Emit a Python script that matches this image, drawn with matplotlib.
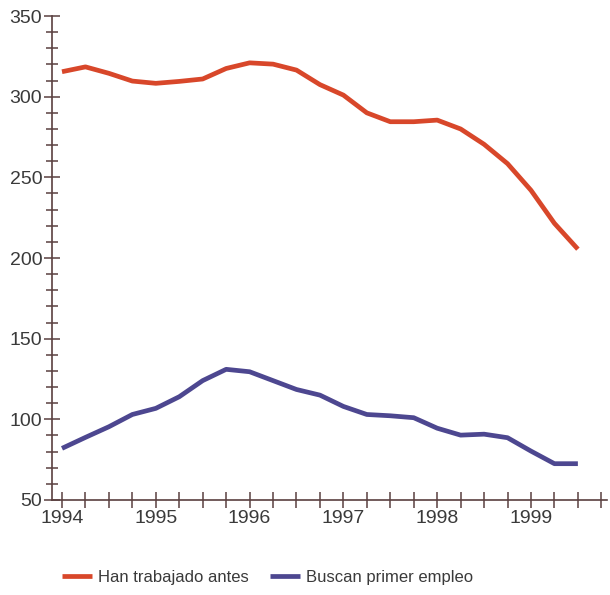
import matplotlib.pyplot as plt
import numpy as np
from matplotlib.ticker import MultipleLocator

# quarterly data, 1994 Q1 .. 1999 Q3
quarters = np.arange(1994, 1999.51, 0.25)
han_trabajado = [315.5, 318.5, 314.5, 309.7, 308.3, 309.5, 311, 317.5, 321, 320.2,
                 316.5, 307.5, 301, 290, 284.5, 284.5, 285.5, 280, 270.5, 258.5,
                 242, 221.5, 205.5]
buscan_primer = [82, 88.8, 95.4, 103, 106.8, 114, 124, 131, 129.5, 124, 118.5, 115,
                 108, 103, 102.2, 101, 94.5, 90.2, 90.8, 88.6, 80.3, 72.5, 72.5]
years = [1994, 1995, 1996, 1997, 1998, 1999]

red = '#d8472a'
purple = '#4d4790'
axis_col = '#5a4040'
text_col = '#3a3a3a'

plt.rcParams['font.family'] = ['Liberation Sans', 'DejaVu Sans']

fig = plt.figure(figsize=(6.1, 5.95), dpi=100)
ax = fig.add_axes([0.0852, 0.1597, 0.9098, 0.8133])

ax.plot(quarters, han_trabajado, color=red, lw=3.4, label='Han trabajado antes',
        solid_joinstyle='round', solid_capstyle='butt')
ax.plot(quarters, buscan_primer, color=purple, lw=3.4, label='Buscan primer empleo',
        solid_joinstyle='round', solid_capstyle='butt')

ax.set_xlim(1993.893, 1999.81)
ax.set_ylim(50, 350)

ax.set_xticks(years)
ax.set_xticklabels([str(y) for y in years])
ax.xaxis.set_minor_locator(MultipleLocator(0.25))
ax.set_yticks(np.arange(50, 351, 50))
ax.yaxis.set_minor_locator(MultipleLocator(10))

for s in ['top', 'right']:
    ax.spines[s].set_visible(False)
for s in ['left', 'bottom']:
    ax.spines[s].set_color(axis_col)
    ax.spines[s].set_linewidth(1.2)

ax.tick_params(axis='x', which='both', direction='inout', length=12, width=1.1,
               color=axis_col, labelcolor=text_col, labelsize=14, pad=1.5)
ax.tick_params(axis='y', which='major', direction='inout', length=11, width=1.1,
               color=axis_col, labelcolor=text_col, labelsize=14, pad=1.5)
ax.tick_params(axis='y', which='minor', direction='inout', length=8, width=1.1,
               color=axis_col)

leg = fig.legend(loc='center', bbox_to_anchor=(0.439, 0.029), ncol=2, frameon=False,
                 fontsize=12, handlelength=1.8, handletextpad=0.35, columnspacing=1.3)
for t in leg.get_texts():
    t.set_color(text_col)

fig.savefig('out.png', dpi=100)
